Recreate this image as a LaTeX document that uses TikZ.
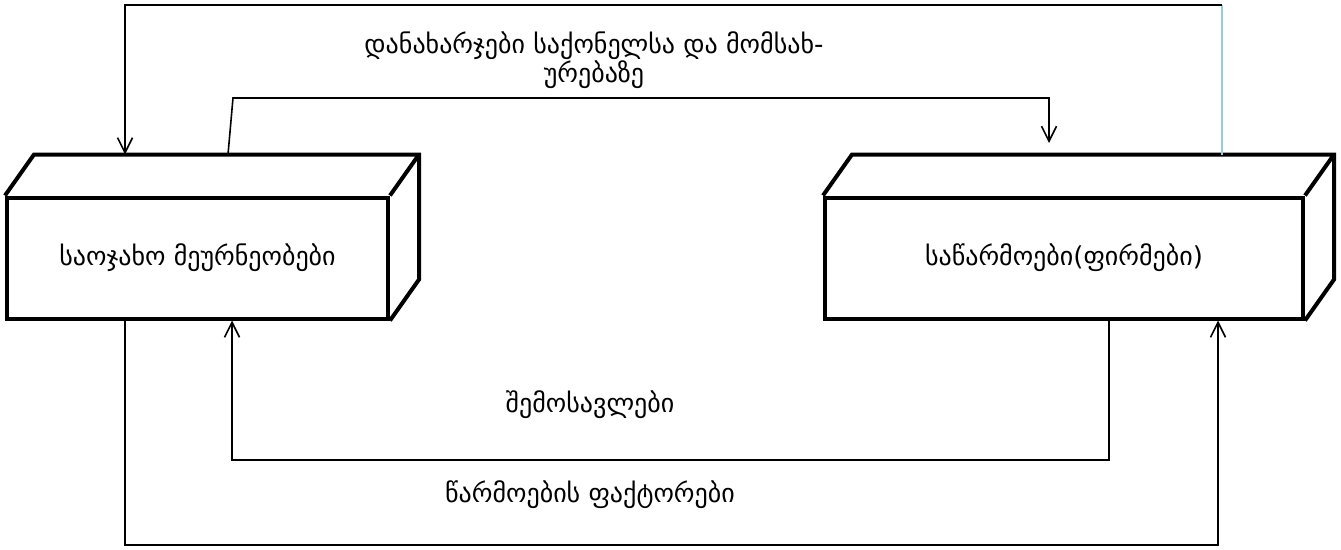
\documentclass[tikz,border=0pt]{standalone}
\usepackage{fontspec}
\setmainfont{DejaVu Sans}
\usetikzlibrary{arrows.meta,calc}
\definecolor{edgeblue}{RGB}{150,205,215}

\begin{document}
\begin{tikzpicture}[x=1pt,y=-1pt,
	every node/.style={font=\fontsize{26}{25}\selectfont},
	box/.style={draw,line width=4pt,minimum height=121pt,inner sep=0pt},
	flow/.style={line width=1.6pt},
	arr/.style={flow,-{Straight Barb[length=15pt,width=15pt,line width=1.6pt]}}]
	\useasboundingbox (0,0) rectangle (1341,549);
	\node[box,minimum width=381pt] (hh) at (197.5,258) {საოჯახო მეურნეობები};
	\node[box,minimum width=478pt] (fm) at (1064,258) {საწარმოები(ფირმები)};
	\foreach \b in {hh,fm}
		\draw[line width=4pt,line join=miter] (\b.north west) -- ++(29,-41) -| ($(\b.south east)+(29,-41)$) -- (\b.south east)
			(\b.north east) -- ++(29,-41);
	\coordinate (hhtop) at ($(hh.north west)+(29,-41)$);
	\coordinate (fmtop) at ($(fm.north west)+(29,-41)$);
	\coordinate (t1) at (125,5);
	\coordinate (t2) at (1222,5);
	\coordinate (m1) at (233,98);
	\coordinate (m2) at (1049,98);
	\coordinate (m3) at (1049,143);
	\coordinate (b1) at (125,545);
	\coordinate (b2) at (1218,545);
	\coordinate (i1) at (1109,460);
	\coordinate (i2) at (232,460);
	\draw[flow,edgeblue] (fmtop -| t2) -- (t2);
	\draw[arr] (t2) -- (t1) -- (hhtop -| t1);
	\draw[arr] (hhtop -| 228,0) -- (m1) -- (m2) -- (m3);
	\draw[arr] (hh.south -| b1) -- (b1) -- (b2) -- (fm.south -| b2);
	\draw[arr] (fm.south -| i1) -- (i1) -- (i2) -- (hh.south -| i2);
	\node[align=center] (cost) at (594,60) {დანახარჯები საქონელსა და მომსახ-\\ურებაზე};
	\node (inc) at (590,405) {შემოსავლები};
	\node (fac) at (590,495) {წარმოების ფაქტორები};
\end{tikzpicture}
\end{document}
